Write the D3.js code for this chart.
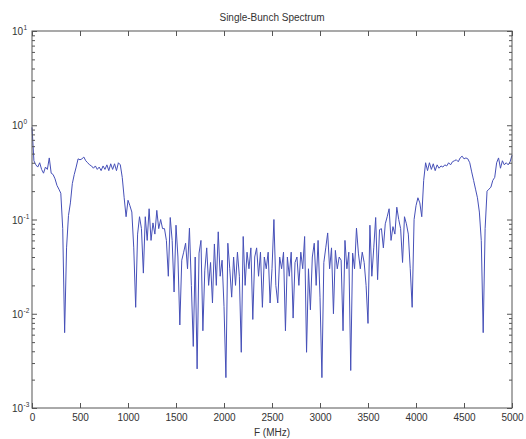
<!DOCTYPE html>
<html><head><meta charset="utf-8">
<script src="https://cdn.jsdelivr.net/npm/d3@7"></script>
<style>body{margin:0;background:#fff}svg{display:block}text{font-family:"Liberation Sans",Arial,sans-serif}</style>
</head><body>
<svg id="c" width="526" height="439"></svg>
<script>
const title = "Single-Bunch Spectrum";
const xLabel = "F (MHz)";
const xTicks = [0,500,1000,1500,2000,2500,3000,3500,4000,4500,5000];
const yDecades = [-3,-2,-1,0,1];
const freqStep = 20; // MHz between samples
const amplitude = [
0.95,0.42,0.38,0.36,0.40,0.34,0.31,0.36,0.34,0.45,
0.31,0.30,0.27,0.23,0.21,0.19,0.08,0.0063,0.05,0.11,
0.15,0.24,0.30,0.36,0.44,0.43,0.44,0.46,0.42,0.40,
0.38,0.37,0.35,0.37,0.34,0.36,0.33,0.37,0.34,0.38,
0.33,0.39,0.34,0.39,0.33,0.40,0.38,0.28,0.17,0.107,
0.16,0.14,0.12,0.05,0.0117,0.07,0.107,0.08,0.027,0.107,
0.06,0.13,0.06,0.092,0.07,0.125,0.08,0.10,0.08,0.08,
0.06,0.025,0.105,0.06,0.017,0.087,0.04,0.0076,0.037,0.045,
0.056,0.03,0.081,0.02,0.0045,0.04,0.0026,0.044,0.06,0.0066,
0.029,0.05,0.02,0.035,0.013,0.055,0.02,0.074,0.025,0.037,
0.012,0.0021,0.056,0.03,0.015,0.04,0.02,0.045,0.025,0.0039,
0.066,0.02,0.045,0.03,0.05,0.0087,0.04,0.05,0.025,0.045,
0.0117,0.04,0.03,0.045,0.013,0.03,0.1,0.02,0.013,0.04,
0.03,0.045,0.0066,0.04,0.025,0.045,0.009,0.035,0.04,0.02,
0.045,0.03,0.066,0.0039,0.03,0.011,0.04,0.056,0.02,0.06,
0.015,0.0021,0.035,0.05,0.072,0.03,0.05,0.01,0.047,0.03,
0.04,0.037,0.0066,0.06,0.03,0.045,0.0025,0.044,0.03,0.081,
0.044,0.03,0.045,0.035,0.02,0.0079,0.087,0.025,0.05,0.105,
0.023,0.078,0.08,0.05,0.09,0.107,0.13,0.06,0.084,0.07,
0.135,0.1,0.08,0.035,0.107,0.09,0.07,0.03,0.0117,0.1,
0.14,0.17,0.15,0.107,0.26,0.40,0.33,0.40,0.34,0.39,
0.33,0.38,0.35,0.37,0.36,0.38,0.37,0.40,0.38,0.41,
0.42,0.43,0.41,0.45,0.47,0.44,0.45,0.44,0.40,0.32,
0.26,0.21,0.17,0.12,0.06,0.0063,0.08,0.20,0.21,0.22,
0.26,0.28,0.40,0.45,0.35,0.42,0.38,0.40,0.38,0.41,
0.48
];
const freqs = amplitude.map((_, i) => i * freqStep);

const svg = d3.select("#c");
const L = 32, R = 512, T = 31, B = 408;
const x = d3.scaleLinear().domain([0, 5000]).range([L, R]);
const y = d3.scaleLog().domain([1e-3, 1e1]).range([B, T]);
const axisCol = "#555";
const textCol = "#333";

// data line
const line = d3.line().x((d, i) => x(freqs[i])).y(d => y(d));
svg.append("path").datum(amplitude)
  .attr("d", line).attr("fill", "none")
  .attr("stroke", "#4650b8").attr("stroke-width", 1).attr("stroke-linejoin", "round");

// box
svg.append("rect").attr("x", L).attr("y", T).attr("width", R - L).attr("height", B - T)
  .attr("fill", "none").attr("stroke", axisCol).attr("stroke-width", 1);

// x axes (inward ticks)
const xb = svg.append("g").attr("transform", `translate(0,${B})`)
  .call(d3.axisBottom(x).tickValues(xTicks).tickSize(-5).tickPadding(6).tickFormat(d3.format("d")));
const xt = svg.append("g").attr("transform", `translate(0,${T})`)
  .call(d3.axisTop(x).tickValues(xTicks).tickSize(-5).tickFormat(""));
[xb, xt].forEach(g => { g.select(".domain").remove(); g.selectAll("line").attr("stroke", axisCol); });
xb.selectAll("text").attr("font-size", 10).attr("fill", textCol).attr("font-family", "'Liberation Sans',Arial,sans-serif");

// y axes: minor and major ticks
const minor = [];
yDecades.slice(0, -1).forEach(e => { for (let k = 2; k <= 9; k++) minor.push(k * Math.pow(10, e)); });
const majors = yDecades.map(e => Math.pow(10, e));
[[d3.axisLeft, L], [d3.axisRight, R]].forEach(([ax, pos]) => {
  const gm = svg.append("g").attr("transform", `translate(${pos},0)`)
    .call(ax(y).tickValues(minor).tickSize(-3).tickFormat(""));
  gm.select(".domain").remove(); gm.selectAll("line").attr("stroke", axisCol);
  const gM = svg.append("g").attr("transform", `translate(${pos},0)`)
    .call(ax(y).tickValues(majors).tickSize(-5).tickFormat(""));
  gM.select(".domain").remove(); gM.selectAll("line").attr("stroke", axisCol);
});
// y labels 10^n
yDecades.forEach(e => {
  svg.append("text").attr("x", 23).attr("y", y(Math.pow(10, e)) + 4)
    .attr("text-anchor", "end").attr("font-size", 10).attr("fill", textCol).text("10");
  svg.append("text").attr("x", 23.5).attr("y", y(Math.pow(10, e)) - 1)
    .attr("font-size", 6.5).attr("fill", textCol).text(String(e));
});

svg.append("text").attr("x", 272).attr("y", 21).attr("text-anchor", "middle")
  .attr("font-size", 10).attr("fill", textCol).text(title);
svg.append("text").attr("x", 272).attr("y", 436).attr("text-anchor", "middle")
  .attr("font-size", 10).attr("fill", textCol).text(xLabel);
</script>
</body></html>
